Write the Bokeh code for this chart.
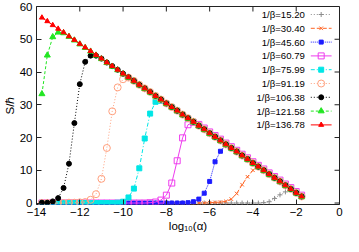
from bokeh.plotting import figure
from bokeh.models import FixedTicker, Label, Range1d
from bokeh.embed import file_html
from bokeh.resources import INLINE

# ---- data ----
x_log_alpha = [-13.75, -13.5, -13.25, -13.0, -12.75, -12.5, -12.25, -12.0, -11.75, -11.5,
               -11.25, -11.0, -10.75, -10.5, -10.25, -10.0, -9.75, -9.5, -9.25, -9.0,
               -8.75, -8.5, -8.25, -8.0, -7.75, -7.5, -7.25, -7.0, -6.75, -6.5,
               -6.25, -6.0, -5.75, -5.5, -5.25, -5.0, -4.75, -4.5, -4.25, -4.0,
               -3.75, -3.5, -3.25, -3.0, -2.75, -2.5, -2.25, -2.0, -1.75]

s_136_78 = [56.6, 55.5, 54.3, 53.2, 52.1, 50.9, 49.8, 48.6, 47.5, 46.4,
            45.2, 44.1, 42.9, 41.8, 40.7, 39.5, 38.4, 37.3, 36.1, 35.0,
            33.9, 32.7, 31.6, 30.4, 29.3, 28.2, 27.0, 25.9, 24.8, 23.6,
            22.5, 21.3, 20.2, 19.1, 17.9, 16.8, 15.7, 14.5, 13.4, 12.2,
            11.1, 10.0, 8.8, 7.7, 6.6, 5.4, 4.3, 3.1, 2.0]
s_121_58 = [33.3, 45.1, 50.7, 52.1, 51.9, 50.8, 49.7, 48.5, 47.4, 46.3,
            45.1, 44.0, 42.8, 41.7, 40.6, 39.4, 38.3, 37.2, 36.0, 34.9,
            33.8, 32.6, 31.5, 30.3, 29.2, 28.1, 26.9, 25.8, 24.7, 23.5,
            22.4, 21.2, 20.1, 19.0, 17.8, 16.7, 15.6, 14.4, 13.3, 12.1,
            11.0, 9.9, 8.7, 7.6, 6.5, 5.3, 4.2, 3.0, 1.9]
s_106_38 = [0.1, 0.1, 0.5, 1.5, 4.6, 12.0, 24.4, 36.3, 43.1, 45.0,
            45.0, 44.1, 42.9, 41.8, 40.7, 39.5, 38.4, 37.3, 36.1, 35.0,
            33.9, 32.7, 31.6, 30.4, 29.3, 28.2, 27.0, 25.9, 24.8, 23.6,
            22.5, 21.3, 20.2, 19.1, 17.9, 16.8, 15.7, 14.5, 13.4, 12.2,
            11.1, 10.0, 8.8, 7.7, 6.6, 5.4, 4.3, 3.1, 2.0]
s_91_19 = [0.0, 0.0, 0.0, 0.0, 0.0, 0.1, 0.1, 0.2, 0.3, 1.0,
           2.7, 7.4, 16.8, 28.0, 35.3, 37.8, 38.3, 37.3, 36.1, 35.0,
           33.9, 32.7, 31.6, 30.4, 29.3, 28.2, 27.0, 25.9, 24.8, 23.6,
           22.5, 21.3, 20.2, 19.1, 17.9, 16.8, 15.7, 14.5, 13.4, 12.2,
           11.1, 10.0, 8.8, 7.7, 6.6, 5.4, 4.3, 3.1, 2.0]
s_75_99 = [0.0, 0.0, 0.0, 0.0, 0.0, 0.0, 0.0, 0.0, 0.0, 0.0,
           0.0, 0.0, 0.0, 0.0, 0.1, 0.4, 1.7, 4.4, 10.6, 19.7,
           27.3, 30.9, 31.2, 30.4, 29.3, 28.2, 27.0, 25.9, 24.8, 23.6,
           22.5, 21.3, 20.2, 19.1, 17.9, 16.8, 15.7, 14.5, 13.4, 12.2,
           11.1, 10.0, 8.8, 7.7, 6.6, 5.4, 4.3, 3.1, 2.0]
s_60_79 = [0.0, 0.0, 0.0, 0.0, 0.0, 0.0, 0.0, 0.0, 0.0, 0.0,
           0.0, 0.0, 0.0, 0.0, 0.0, 0.0, 0.0, 0.0, 0.0, 0.0,
           0.1, 0.3, 0.9, 2.4, 6.1, 12.9, 19.9, 23.9, 24.6, 24.0,
           22.9, 21.7, 20.6, 19.5, 18.3, 17.2, 16.1, 14.9, 13.8, 12.6,
           11.5, 10.4, 9.2, 8.1, 7.0, 5.8, 4.7, 3.5, 2.4]
s_45_60 = [0.0, 0.0, 0.0, 0.0, 0.0, 0.0, 0.0, 0.0, 0.0, 0.0,
           0.0, 0.0, 0.0, 0.0, 0.0, 0.0, 0.0, 0.0, 0.0, 0.0,
           0.0, 0.0, 0.0, 0.0, 0.0, 0.0, 0.0, 0.1, 0.4, 1.2,
           3.0, 6.6, 12.6, 15.8, 17.8, 16.8, 15.7, 14.5, 13.4, 12.2,
           11.1, 10.0, 8.8, 7.7, 6.6, 5.4, 4.3, 3.1, 2.0]
s_30_40 = [0.0, 0.0, 0.0, 0.0, 0.0, 0.0, 0.0, 0.0, 0.0, 0.0,
           0.0, 0.0, 0.0, 0.0, 0.0, 0.0, 0.0, 0.0, 0.0, 0.0,
           0.0, 0.0, 0.0, 0.0, 0.0, 0.0, 0.0, 0.0, 0.0, 0.0,
           0.0, 0.1, 0.2, 0.3, 0.5, 1.2, 2.9, 5.6, 8.0, 10.0,
           11.2, 10.0, 8.8, 7.7, 6.6, 5.4, 4.3, 3.1, 2.0]
s_15_20 = [0.0, 0.0, 0.0, 0.0, 0.0, 0.0, 0.0, 0.0, 0.0, 0.0,
           0.0, 0.0, 0.0, 0.0, 0.0, 0.0, 0.0, 0.0, 0.0, 0.0,
           0.0, 0.0, 0.0, 0.0, 0.0, 0.0, 0.0, 0.0, 0.0, 0.0,
           0.0, 0.0, 0.0, 0.0, 0.0, 0.0, 0.0, 0.0, 0.0, 0.0,
           0.0, 0.1, 0.4, 1.4, 2.5, 3.4, 4.1, 3.3, 2.1]

series_labels = ["1/β=15.20", "1/β=30.40", "1/β=45.60", "1/β=60.79", "1/β=75.99",
                 "1/β=91.19", "1/β=106.38", "1/β=121.58", "1/β=136.78"]
series_values = [s_15_20, s_30_40, s_45_60, s_60_79, s_75_99,
                 s_91_19, s_106_38, s_121_58, s_136_78]
x_ticks = [-14, -12, -10, -8, -6, -4, -2, 0]
y_ticks = [0, 10, 20, 30, 40, 50, 60]
x_label = "log₁₀(α)"
y_label = "S/ℏ"
x_min, x_max = -14, 0
y_min, y_max = -0.45, 60

# ---- styles ----
styles = [
    dict(color="#8c8c8c", dash="1 2", marker="cross", size=5, fill=True),
    dict(color="#ff6322", dash="4 2", marker="x", size=5, fill=True),
    dict(color="#1c1cff", dash="1 1", marker="square", size=4, fill=True),
    dict(color="#ee3cee", dash="solid", marker="square", size=6, fill=False),
    dict(color="#00e6e6", dash="4 2 1 2", marker="square", size=5, fill=True),
    dict(color="#ffa07e", dash="1 2", marker="circle", size=7, fill=False),
    dict(color="#000000", dash="1 2", marker="circle", size=5, fill=True),
    dict(color="#22e622", dash="3 2", marker="triangle", size=6, fill=True),
    dict(color="#ff0000", dash="solid", marker="triangle", size=5, fill=True),
]

FONT = "Liberation Sans"
W, H = 343, 236
B_LEFT, B_RIGHT, B_TOP, B_BOTTOM = 33, 4, 6, 32
FRAME_W, FRAME_H = W - B_LEFT - B_RIGHT, H - B_TOP - B_BOTTOM
TICK = 5
XS = (x_max - x_min) / FRAME_W   # data units per pixel
YS = (y_max - y_min) / FRAME_H

p = figure(width=W, height=H, output_backend="svg", toolbar_location=None,
           x_range=Range1d(x_min, x_max), y_range=Range1d(y_min, y_max),
           min_border_left=B_LEFT, min_border_right=B_RIGHT,
           min_border_top=B_TOP, min_border_bottom=B_BOTTOM,
           x_axis_label=x_label, y_axis_label=y_label)
p.background_fill_color = "white"
p.border_fill_color = "white"
p.grid.visible = False
p.outline_line_color = "#222222"
p.outline_line_width = 1

for ax, ticks in ((p.xaxis[0], x_ticks), (p.yaxis[0], y_ticks)):
    ax.ticker = FixedTicker(ticks=ticks)
    ax.axis_line_color = None
    ax.major_tick_in = TICK
    ax.major_tick_out = 0
    ax.minor_tick_in = 0
    ax.minor_tick_out = 0
    ax.major_tick_line_color = "#222222"
    ax.major_label_text_font = FONT
    ax.major_label_text_font_size = "11.5px"
    ax.major_label_text_color = "black"
    ax.axis_label_text_font = FONT
    ax.axis_label_text_font_size = "11.5px"
    ax.axis_label_text_font_style = "normal"
    ax.axis_label_text_color = "black"
p.xaxis[0].major_label_standoff = 3
p.xaxis[0].axis_label_standoff = 1
p.yaxis[0].major_label_standoff = 4
p.yaxis[0].axis_label_standoff = 1

# mirrored inward ticks on the top and right edges of the frame
p.segment(x0=x_ticks, y0=[y_max] * len(x_ticks), x1=x_ticks,
          y1=[y_max - TICK * YS] * len(x_ticks), line_color="#222222", line_width=1)
p.segment(x0=[x_max] * len(y_ticks), y0=y_ticks, x1=[x_max - TICK * XS] * len(y_ticks),
          y1=y_ticks, line_color="#222222", line_width=1)

# series
for ys, st in zip(series_values, styles):
    p.line(x_log_alpha, ys, line_color=st["color"], line_width=1, line_dash=st["dash"])
    p.scatter(x_log_alpha, ys, marker=st["marker"], size=st["size"],
              line_color=st["color"], line_width=1,
              fill_color=st["color"] if st["fill"] else None)

# gnuplot-like key: right-aligned text, then a line sample with its marker
KEY_TEXT_X, KEY_GLYPH_X0, KEY_GLYPH_X1 = 271, 277, 298   # px from frame left
KEY_Y0, KEY_DY = 190, 13.8                                # px from frame bottom
for k, (lab, st) in enumerate(zip(series_labels, styles)):
    yd = y_min + (KEY_Y0 - KEY_DY * k) * YS
    xt = x_min + KEY_TEXT_X * XS
    xa = x_min + KEY_GLYPH_X0 * XS
    xb = x_min + KEY_GLYPH_X1 * XS
    p.add_layout(Label(x=xt, y=yd, text=lab, text_align="right", text_baseline="middle",
                       text_font=FONT, text_font_size="9.6px", text_color="black"))
    p.line([xa, xb], [yd, yd], line_color=st["color"], line_width=1, line_dash=st["dash"])
    p.scatter([(xa + xb) / 2], [yd], marker=st["marker"], size=st["size"],
              line_color=st["color"], line_width=1,
              fill_color=st["color"] if st["fill"] else None)

open("out.html", "w").write(file_html(p, INLINE))
